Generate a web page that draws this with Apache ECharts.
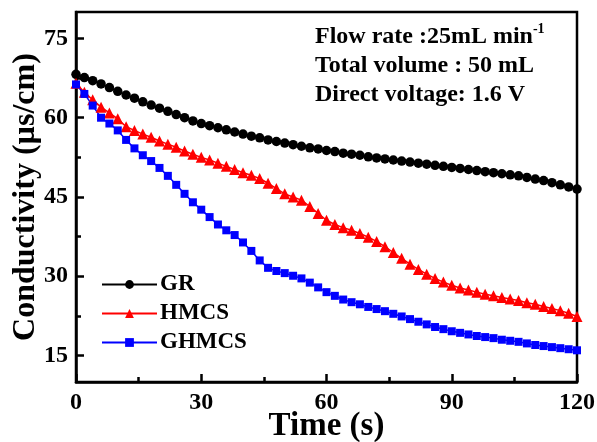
<!DOCTYPE html>
<html>
<head>
<meta charset="utf-8">
<script src="https://cdn.jsdelivr.net/npm/echarts@6/dist/echarts.min.js"></script>
<style>
  html, body { margin: 0; padding: 0; background: #fff; }
  #main { width: 597px; height: 442px; }
</style>
</head>
<body>
<div id="main"></div>
<script>
// time (s), one point every 2 s
var times = []
for (var t = 0; t <= 120; t += 2) times.push(t)

var grVals = [68.2, 67.6, 67.0, 66.4, 65.7, 65.0, 64.3, 63.7, 63.0, 62.4,
  61.8, 61.2, 60.6, 60.0, 59.4, 58.9, 58.5, 58.1, 57.7, 57.3,
  56.9, 56.5, 56.2, 55.8, 55.5, 55.2, 54.9, 54.6, 54.3, 54.1,
  53.8, 53.6, 53.3, 53.1, 52.9, 52.6, 52.4, 52.2, 52.0, 51.8,
  51.6, 51.4, 51.2, 51.0, 50.8, 50.6, 50.4, 50.2, 50.0, 49.8,
  49.6, 49.4, 49.2, 49.0, 48.7, 48.4, 48.1, 47.7, 47.3, 46.9, 46.5]

var hmcsVals = [66.5, 64.8, 63.4, 62.0, 60.9, 59.8, 58.3, 57.6, 56.9, 56.3,
  55.6, 55.0, 54.4, 53.7, 53.1, 52.5, 52.0, 51.4, 50.8, 50.2,
  49.6, 49.1, 48.5, 47.6, 46.6, 45.6, 45.0, 44.4, 43.2, 41.9,
  40.6, 39.8, 39.2, 38.7, 38.1, 37.4, 36.6, 35.6, 34.5, 33.4,
  32.3, 31.3, 30.4, 29.6, 28.9, 28.3, 27.8, 27.4, 27.0, 26.6,
  26.3, 26.0, 25.7, 25.4, 25.0, 24.7, 24.3, 23.9, 23.5, 23.0, 22.4]

var ghmcsVals = [66.3, 64.5, 62.3, 60.0, 58.9, 57.6, 55.8, 54.2, 52.9, 51.8,
  50.5, 49.0, 47.3, 45.6, 44.0, 42.6, 41.2, 39.8, 38.7, 37.8,
  36.4, 34.8, 33.0, 31.6, 31.0, 30.6, 30.1, 29.6, 28.8, 27.9,
  27.0, 26.3, 25.6, 25.1, 24.7, 24.2, 23.8, 23.4, 22.9, 22.4,
  21.9, 21.4, 20.9, 20.4, 20.0, 19.6, 19.3, 19.0, 18.7, 18.5,
  18.3, 18.0, 17.8, 17.6, 17.3, 17.0, 16.8, 16.6, 16.4, 16.2, 16.0]

var yLabels = [15, 30, 45, 60, 75]
var yMinor = [22.5, 37.5, 52.5, 67.5]
var notes = ['Flow rate :25mL min', 'Total volume : 50 mL', 'Direct voltage: 1.6 V']

function pairs(vals) {
  var out = []
  for (var i = 0; i < times.length; i++) out.push([times[i], vals[i]])
  return out
}

var font = 'Liberation Serif'
var myChart = echarts.init(document.getElementById('main'))

var option = {
  backgroundColor: '#fff',
  animation: false,
  grid: {
    left: 76, right: 20, top: 12, bottom: 60,
    outerBoundsMode: 'none',
    show: true, borderColor: '#000', borderWidth: 2.5
  },
  legend: {
    orient: 'vertical',
    left: 96, top: 268,
    itemWidth: 55, itemHeight: 11, itemGap: 6,
    textStyle: { fontFamily: font, fontWeight: 'bold', fontSize: 23, color: '#000', padding: [0, 0, 0, -2] },
    data: ['GR', 'HMCS', 'GHMCS']
  },
  xAxis: {
    type: 'value', min: 0, max: 120, interval: 30,
    name: 'Time (s)', nameLocation: 'middle', nameGap: 28, nameMoveOverlap: false,
    nameTextStyle: { fontFamily: font, fontWeight: 'bold', fontSize: 33, color: '#000' },
    axisLine: { lineStyle: { color: '#000', width: 2.5 } },
    axisTick: { inside: true, length: 8, lineStyle: { color: '#000', width: 2.5 } },
    minorTick: { show: true, splitNumber: 2, length: 5, lineStyle: { color: '#000', width: 2.5 } },
    axisLabel: { fontFamily: font, fontWeight: 'bold', fontSize: 24, color: '#000', margin: 9 },
    splitLine: { show: false }
  },
  yAxis: [{
    type: 'value', min: 10, max: 80,
    name: 'Conductivity (\u00b5s/cm)', nameLocation: 'middle', nameGap: 34, nameMoveOverlap: false,
    nameTextStyle: { fontFamily: font, fontWeight: 'bold', fontSize: 32, color: '#000' },
    axisLine: { lineStyle: { color: '#000', width: 2.5 } },
    axisTick: { inside: true, length: 8, customValues: yLabels, lineStyle: { color: '#000', width: 2.5 } },
    axisLabel: { customValues: yLabels, fontFamily: font, fontWeight: 'bold', fontSize: 24, color: '#000', margin: 8 },
    splitLine: { show: false }
  }, {
    type: 'value', min: 10, max: 80, position: 'left',
    axisLine: { show: false },
    axisTick: { show: true, inside: true, length: 5, customValues: yMinor, lineStyle: { color: '#000', width: 2.5 } },
    axisLabel: { show: false },
    splitLine: { show: false }
  }],
  graphic: [{
    type: 'text', left: 315, top: 22,
    style: {
      text: '{a|' + notes[0] + '}{s|-1}\n{a|' + notes[1] + '}\n{a|' + notes[2] + '}',
      fill: '#000',
      rich: {
        a: { fontFamily: font, fontWeight: 'bold', fontSize: 24, lineHeight: 29, fill: '#000' },
        s: { fontFamily: font, fontWeight: 'bold', fontSize: 14, lineHeight: 29, verticalAlign: 'top', fill: '#000' }
      }
    }
  }],
  series: [
    {
      name: 'GR', type: 'line', data: pairs(grVals),
      symbol: 'circle', symbolSize: 9.5,
      itemStyle: { color: '#000' }, lineStyle: { color: '#000', width: 1.5 }
    },
    {
      name: 'HMCS', type: 'line', data: pairs(hmcsVals),
      symbol: 'triangle', symbolSize: 11,
      itemStyle: { color: '#ff0000' }, lineStyle: { color: '#ff0000', width: 1.5 }
    },
    {
      name: 'GHMCS', type: 'line', data: pairs(ghmcsVals),
      symbol: 'rect', symbolSize: 8,
      itemStyle: { color: '#0000ff' }, lineStyle: { color: '#0000ff', width: 1.5 }
    }
  ]
}
myChart.setOption(option)
</script>
</body>
</html>
